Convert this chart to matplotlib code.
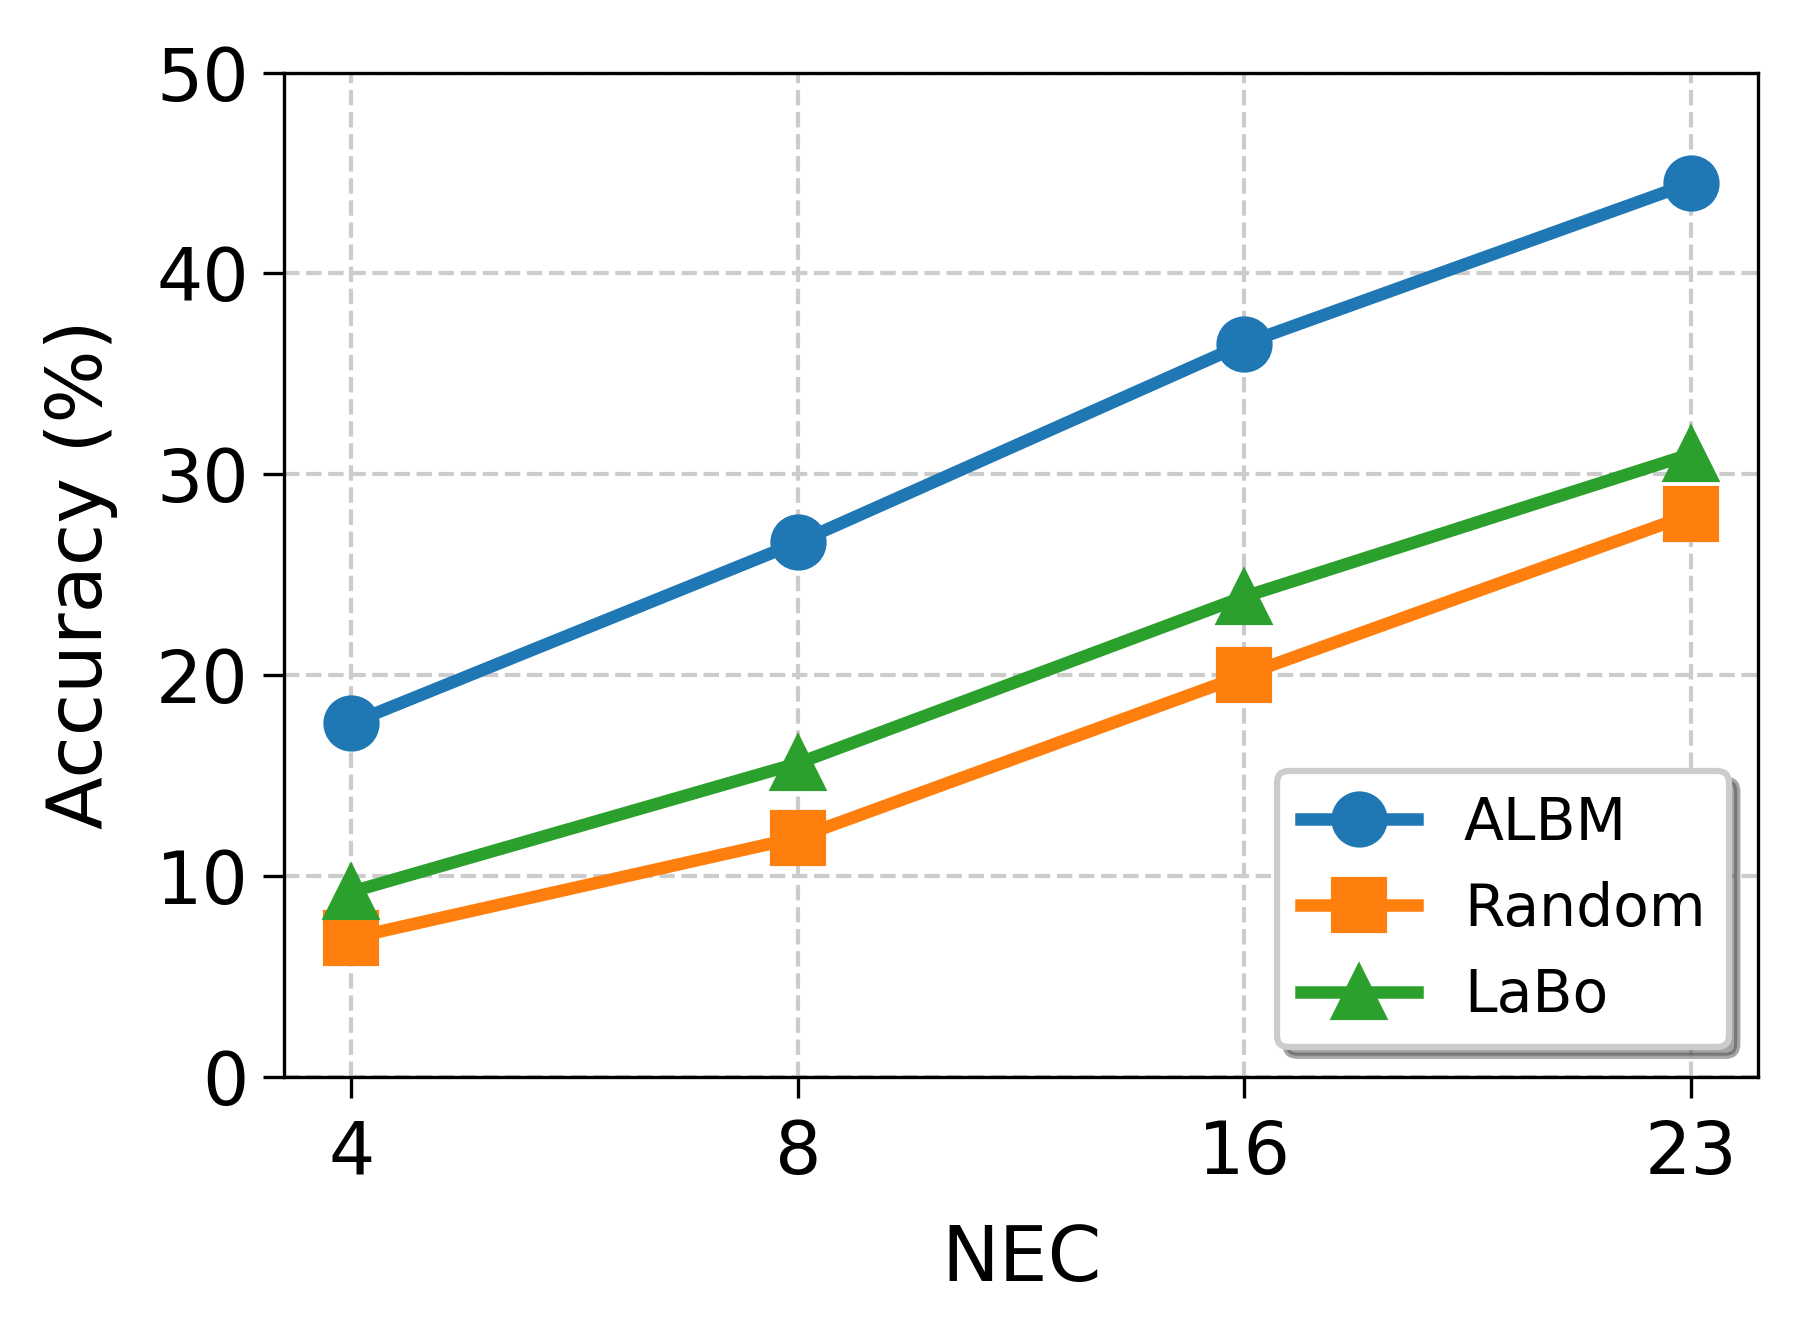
import matplotlib
matplotlib.use("Agg")
import matplotlib.pyplot as plt

nec_labels = ["4", "8", "16", "23"]
albm = [17.6, 26.6, 36.5, 44.5]
random_sel = [6.9, 11.9, 20.0, 28.0]
labo = [9.2, 15.6, 23.9, 31.0]

x = list(range(len(nec_labels)))

fig = plt.figure(figsize=(1805 / 300, 1338 / 300), dpi=300)
ax = fig.add_axes([0.1575, 0.1954, 0.974 - 0.1575, 0.9458 - 0.1954])

ax.plot(x, albm, marker="o", color="#1f77b4", lw=3, markersize=12.5, label="ALBM", zorder=3)
ax.plot(x, random_sel, marker="s", color="#ff7f0e", lw=3, markersize=12.5, label="Random", zorder=3)
ax.plot(x, labo, marker="^", color="#2ca02c", lw=3, markersize=12.5, label="LaBo", zorder=3)

ax.set_xticks(x)
ax.set_xticklabels(nec_labels)
ax.set_ylim(0, 50)
ax.set_yticks([0, 10, 20, 30, 40, 50])
ax.tick_params(labelsize=17.5, length=5, width=0.8)
ax.tick_params(axis="x", pad=5)
ax.set_xlabel("NEC", fontsize=18.5, labelpad=8)
ax.set_ylabel("Accuracy (%)", fontsize=18.5, labelpad=9)
ax.grid(True, linestyle="--", color="0.8", lw=1)
ax.set_axisbelow(True)

leg = ax.legend(loc="lower right", fontsize=14, shadow=True, fancybox=True, framealpha=1)
leg.get_frame().set_linewidth(1.5)

fig.savefig("out.png", dpi=300)
